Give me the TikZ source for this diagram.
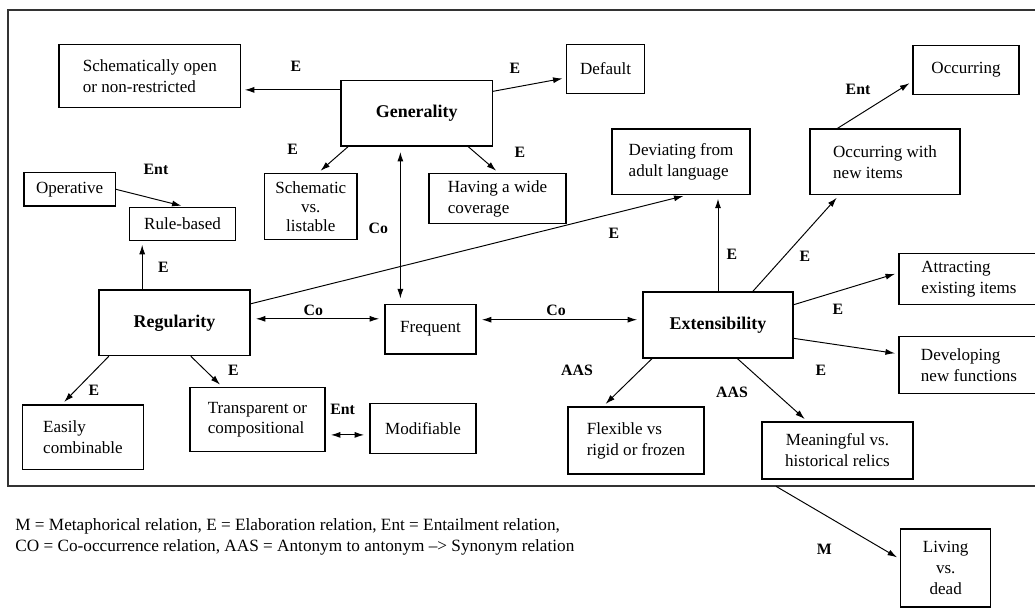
\documentclass[tikz,border=0pt]{standalone}
\usepackage{fontspec}
\setmainfont{Liberation Serif}
\usetikzlibrary{arrows.meta}
\newlength{\pix}
\setlength{\pix}{0.02cm}
\tikzset{
    common/.style={draw, rectangle, line width=0.7pt, inner sep=0pt, align=left, font=\fontsize{9.7}{11.9}\selectfont},
    concept/.style={common, font=\bfseries\fontsize{10.2}{12}\selectfont},
    dims/.style 2 args={minimum width=#1\pix, minimum height=#2\pix},
    rel/.style={inner sep=0pt, font=\bfseries\fontsize{9}{11}\selectfont},
    link/.style={-{Latex[length=1.9mm, width=1.2mm]}, line width=0.55pt, shorten >=2pt},
    both/.style={link, {Latex[length=1.9mm, width=1.2mm]}-{Latex[length=1.9mm, width=1.2mm]}, shorten <=3pt, shorten >=3pt}
}
\begin{document}
\begin{tikzpicture}[x=0.02cm, y=-0.02cm]
    \useasboundingbox (0,0) rectangle (1035,608);
    \draw[line width=0.7pt, black!80] (8,10) rectangle (1045,486);

    % top row
    \node[common, dims={181.7}{63}] (schopen) at (149.8,75.8) {Schematically open\\or non-restricted};
    \node[concept, dims={151.3}{65.7}] (general) at (416.7,113.2) {Generality};
    \node[common, dims={78}{49}] (default) at (605.6,68.7) {Default};
    \node[common, dims={106}{49.5}] (occur) at (966,70) {Occurring};
    \node[common, dims={138}{65.5}] (deviate) at (681,161.8) {Deviating from\\adult language};
    \node[common, dims={150}{65.5}] (occnew) at (885,161.8) {Occurring with\\new items};
    \node[common, dims={91.3}{33.3}] (operative) at (69.7,189.3) {Operative};
    \node[common, dims={105.6}{33.4}] (rule) at (182.5,224) {Rule-based};
    \node[common, dims={92.3}{65.7}, align=center, font=\fontsize{9.7}{10.9}\selectfont] (schem) at (310.8,206.5) {Schematic\\vs.\\listable};
    \node[common, dims={137}{49.7}] (wide) at (497.5,198.5) {Having a wide\\coverage};

    % middle row
    \node[concept, dims={151}{65.7}] (regular) at (174.5,322.8) {Regularity};
    \node[common, dims={91}{49.7}] (freq) at (430.5,329.2) {Frequent};
    \node[concept, dims={150}{66}] (ext) at (718,325) {Extensibility};
    \node[common, dims={140}{50.5}] (attract) at (969,279) {Attracting\\existing items};
    \node[common, dims={140}{56.5}] (develop) at (969,365) {Developing\\new functions};

    % bottom row
    \node[common, dims={120.6}{64.3}] (easily) at (83,437.2) {Easily\\combinable};
    \node[common, dims={135}{64}] (transp) at (257.5,419.7) {Transparent or\\compositional};
    \node[common, dims={106}{50}] (modif) at (423,428.3) {Modifiable};
    \node[common, dims={136}{67}] (flex) at (636,440.5) {Flexible vs\\rigid or frozen};
    \node[common, dims={151}{57}, align=center] (mean) at (837.5,450.5) {Meaningful vs.\\historical relics};
    \node[common, dims={90}{78}, align=center] (living) at (945.7,568) {Living\\vs.\\dead};
    \coordinate (framefoot) at (776,486.3);

    % connectors
    \draw[link] (general.163) -- (general.163 -| schopen.east);
    \draw[link] (general.16) -- (default.193);
    \draw[link] (general.206) -- (schem.78);
    \draw[link] (general.327) -- (wide.87);
    \draw[both] (general.244) -- (general.244 |- freq.north);
    \draw[link] (operative.east) -- (rule.82);
    \draw[link] (regular.134) -- (regular.134 |- rule.south);
    \draw[link] (regular.14.5) -- (deviate.280);
    \draw[both] (regular.3) -- (regular.3 -| freq.west);
    \draw[both] (ext.176 -| freq.east) -- (ext.176);
    \draw[link] (regular.207) -- (easily.123);
    \draw[link] (regular.296) -- (transp.137);
    \draw[both] (modif.187 -| transp.east) -- (modif.187);
    \draw[link] (ext.north) -- (ext.north |- deviate.south);
    \draw[link] (ext.44) -- (occnew.216);
    \draw[link] (occnew.145) -- (occur.192);
    \draw[link] (ext.15.5) -- (attract.175);
    \draw[link] (ext.350) -- (develop.171);
    \draw[link] (ext.207) -- (flex.134);
    \draw[link] (ext.300) -- (mean.136);
    \draw[link] (framefoot) -- (living.169.5);

    % relation labels
    \node[rel] (eSchopen) at (296,66.7) {E};
    \node[rel] (eDefault) at (515,68) {E};
    \node[rel] (eSchem) at (292.7,149) {E};
    \node[rel] (eWide) at (520,152) {E};
    \node[rel] (coFreqTop) at (378.3,228.3) {Co};
    \node[rel] (entRule) at (156,169.3) {Ent};
    \node[rel] (eRule) at (163.3,267.7) {E};
    \node[rel] (eDeviateLong) at (614,233) {E};
    \node[rel] (coRegular) at (313.3,310.7) {Co};
    \node[rel] (coExt) at (556,310) {Co};
    \node[rel] (eEasily) at (94,390) {E};
    \node[rel] (eTransp) at (233.3,370.7) {E};
    \node[rel] (entModif) at (342.7,409.3) {Ent};
    \node[rel] (eDeviate) at (732,254) {E};
    \node[rel] (eOccnew) at (805,256) {E};
    \node[rel] (entOccur) at (858,89.4) {Ent};
    \node[rel] (eAttract) at (838,309) {E};
    \node[rel] (eDevelop) at (821,370.5) {E};
    \node[rel] (aasFlex) at (577,370.5) {AAS};
    \node[rel] (aasMean) at (732,392.6) {AAS};
    \node[rel] (mLiving) at (824.3,549.3) {M};

    % key
    \node[anchor=base west, inner sep=0pt, align=left, font=\fontsize{9.8}{11.6}\selectfont] (legend) at (15,551)
        {M = Metaphorical relation, E = Elaboration relation, Ent = Entailment relation,\\CO = Co-occurrence relation, AAS = Antonym to antonym –> Synonym relation};
\end{tikzpicture}
\end{document}
